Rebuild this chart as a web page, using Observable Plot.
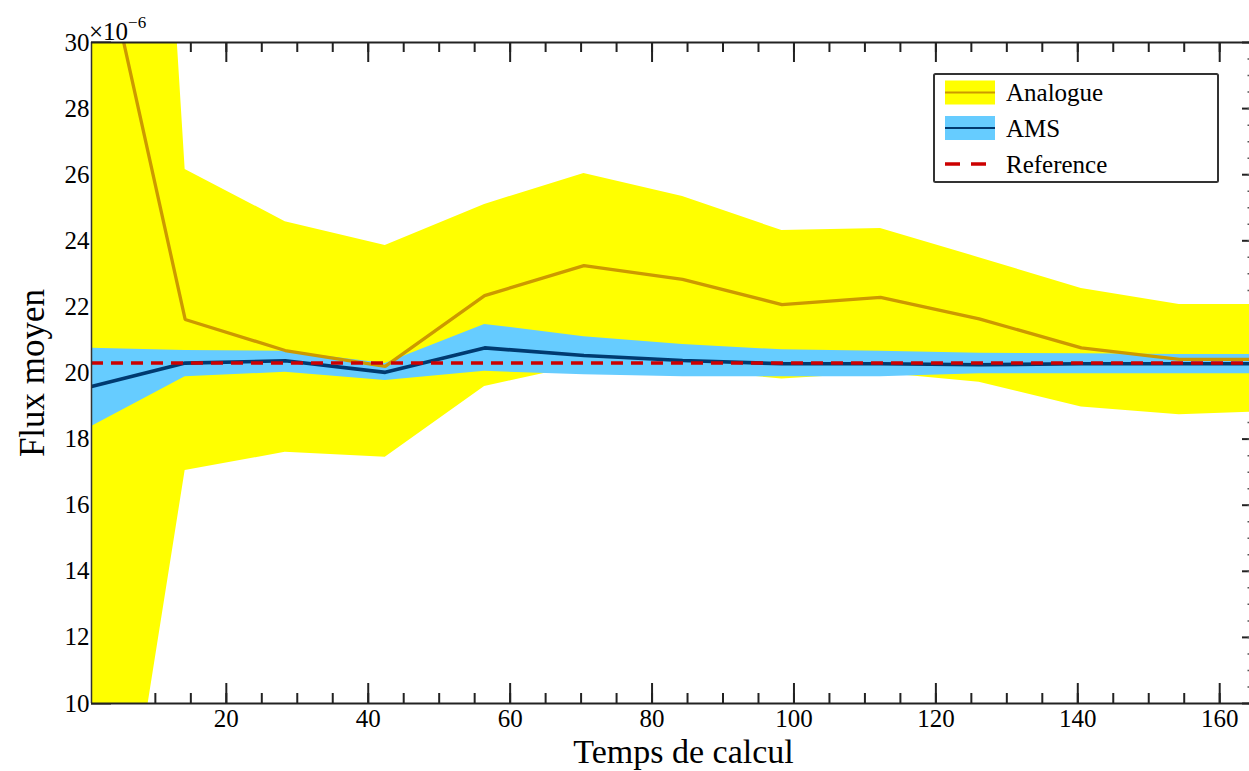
<!DOCTYPE html>
<html>
<head>
<meta charset="utf-8">
<script src="https://cdn.jsdelivr.net/npm/d3@7"></script>
<script src="https://cdn.jsdelivr.net/npm/@observablehq/plot@0.6"></script>
<style>
  html, body { margin: 0; padding: 0; background: #fff; overflow: hidden; }
  #wrap { position: relative; width: 1249px; height: 771px; }
  #wrap svg, #wrap svg text { font-family: "Liberation Serif", "Times New Roman", serif !important; }
  #overlay { position: absolute; left: 0; top: 0; pointer-events: none; }
</style>
</head>
<body>
<div id="wrap"></div>
<script>
// ---- data (values in units of 1e-6) ----
const xPos         = [1, 14.2, 28.3, 42.4, 56.4, 70.4, 84.3, 98.3, 112.2, 126.1, 140.5, 154.3, 168.3];
const analogueMean = [34.4, 21.62, 20.68, 20.20, 22.34, 23.25, 22.83, 22.07, 22.29, 21.64, 20.76, 20.41, 20.41];
const analogueHigh = [72, 26.16, 24.58, 23.86, 25.10, 26.04, 25.34, 24.31, 24.37, 23.49, 22.56, 22.07, 22.07];
const analogueLow  = [-0.8, 17.05, 17.60, 17.45, 19.59, 20.25, 20.10, 19.82, 20.00, 19.72, 18.97, 18.74, 18.84];
const amsMean      = [19.59, 20.30, 20.37, 20.02, 20.76, 20.53, 20.38, 20.28, 20.28, 20.25, 20.28, 20.28, 20.28];
const amsHigh      = [20.75, 20.68, 20.66, 20.29, 21.47, 21.10, 20.86, 20.70, 20.66, 20.60, 20.58, 20.56, 20.56];
const amsLow       = [18.38, 19.89, 20.02, 19.77, 20.05, 19.95, 19.89, 19.89, 19.89, 19.98, 19.98, 19.98, 19.98];
const referenceValue = 20.3;
const seriesNames = ["Analogue", "AMS", "Reference"];
const xDomain = [1, 164.2];
const yDomain = [10, 30];
const xMajor = [20, 40, 60, 80, 100, 120, 140, 160];
const xMinor = d3.range(5, 165, 5);
const yMajor = [10, 12, 14, 16, 18, 20, 22, 24, 26, 28, 30];
const yMinor = d3.range(10, 30.01, 0.5);
const xLabel = "Temps de calcul";
const yLabel = "Flux moyen";
const exponentBase = "×10";
const exponentPower = "−6";

// ---- layout / style ----
const W = 1249, H = 771, mL = 91, mR = 0, mT = 42, mB = 68;
const plotW = W - mL - mR, plotH = H - mT - mB;
const serif = '"Liberation Serif", "Times New Roman", serif';
const colYellow = "#ffff00", colOrange = "#cc9900", colBlue = "#66ccff", colNavy = "#003a70", colRed = "#cc0000";
const axisCol = "#222";

const rows = xPos.map((x, i) => ({
  x, aMean: analogueMean[i], aHigh: analogueHigh[i], aLow: analogueLow[i],
  sMean: amsMean[i], sHigh: amsHigh[i], sLow: amsLow[i]
}));

const chart = Plot.plot({
  width: W, height: H,
  marginLeft: mL, marginRight: mR, marginTop: mT, marginBottom: mB,
  style: { fontFamily: serif, fontSize: "25px", background: "white", color: "#000", overflow: "hidden" },
  x: { domain: xDomain },
  y: { domain: yDomain },
  marks: [
    // tick marks (drawn below the fills, as in the original)
    Plot.tickY(yMajor, { y: d => d, insetRight: plotW - 20, stroke: axisCol, strokeWidth: 2 }),
    Plot.tickX(xMinor, { x: d => d, insetTop: plotH - 10, stroke: axisCol, strokeWidth: 2 }),
    Plot.tickX(xMajor, { x: d => d, insetTop: plotH - 20, stroke: axisCol, strokeWidth: 2 }),
    Plot.tickX(xMinor, { x: d => d, insetBottom: plotH - 10, stroke: axisCol, strokeWidth: 2 }),
    Plot.tickX(xMajor, { x: d => d, insetBottom: plotH - 20, stroke: axisCol, strokeWidth: 2 }),
    Plot.tickY(yMajor, { y: d => d, insetLeft: plotW - 7, stroke: axisCol, strokeWidth: 2 }),
    Plot.tickY(yMinor, { y: d => d, insetLeft: plotW - 1.5, stroke: "#555", strokeWidth: 1.5 }),
    // bands
    Plot.areaY(rows, { x: "x", y1: "aLow", y2: "aHigh", fill: colYellow, clip: true }),
    Plot.areaY(rows, { x: "x", y1: "sLow", y2: "sHigh", fill: colBlue, clip: true }),
    // lines
    Plot.lineY(rows, { x: "x", y: "aMean", stroke: colOrange, strokeWidth: 3.3, strokeLinejoin: "miter", clip: true }),
    Plot.lineY(rows, { x: "x", y: "sMean", stroke: colNavy, strokeWidth: 3.6, strokeLinejoin: "miter", clip: true }),
    Plot.ruleY([referenceValue], { stroke: colRed, strokeWidth: 3.5, strokeDasharray: "12,8" }),
    // axis lines
    Plot.ruleX([xDomain[0]], { stroke: "#333", strokeWidth: 1.5 }),
    Plot.ruleY(yDomain, { stroke: axisCol, strokeWidth: 2 }),
    // tick labels
    Plot.axisX({ ticks: xMajor, tickSize: 0, tickPadding: 6, label: null, fill: "#000", fontFamily: serif, fontSize: 25 }),
    Plot.axisY({ ticks: yMajor, tickSize: 0, tickPadding: 2, label: null, fill: "#000", fontFamily: serif, fontSize: 25 }),
    // axis titles
    Plot.text([xLabel], { frameAnchor: "bottom", lineAnchor: "middle", textAnchor: "middle", dy: 49, dx: 13, fontSize: 34, fontFamily: serif, fill: "#000" }),
    Plot.text([yLabel], { frameAnchor: "left", lineAnchor: "middle", textAnchor: "middle", dx: -59, rotate: -90, fontSize: 35, fontFamily: serif, fill: "#000" })
  ]
});
document.getElementById("wrap").appendChild(chart);

// ---- overlay: exponent and legend ----
const ov = d3.select("#wrap").append("svg")
  .attr("id", "overlay").attr("width", W).attr("height", H)
  .style("font-family", serif);

const expo = ov.append("text").attr("x", 89).attr("y", 40).attr("font-size", 25).attr("fill", "#000");
expo.append("tspan").text(exponentBase);
expo.append("tspan").attr("dy", -12).attr("font-size", 17).text(exponentPower);

const lg = ov.append("g").attr("transform", "translate(934,74)");
lg.append("rect").attr("x", 0).attr("y", 0).attr("width", 284).attr("height", 108)
  .attr("fill", "white").attr("stroke", "#333").attr("stroke-width", 2).attr("rx", 1.5);
const rowsY = [18.5, 54, 90];
// Analogue
lg.append("rect").attr("x", 11).attr("y", rowsY[0] - 12).attr("width", 50).attr("height", 24).attr("fill", colYellow);
lg.append("line").attr("x1", 11).attr("x2", 61).attr("y1", rowsY[0]).attr("y2", rowsY[0]).attr("stroke", colOrange).attr("stroke-width", 2);
// AMS
lg.append("rect").attr("x", 11).attr("y", rowsY[1] - 12).attr("width", 50).attr("height", 24).attr("fill", colBlue);
lg.append("line").attr("x1", 11).attr("x2", 61).attr("y1", rowsY[1]).attr("y2", rowsY[1]).attr("stroke", colNavy).attr("stroke-width", 2);
// Reference
lg.append("line").attr("x1", 11).attr("x2", 61).attr("y1", rowsY[2]).attr("y2", rowsY[2]).attr("stroke", colRed).attr("stroke-width", 3.5).attr("stroke-dasharray", "15,11");
seriesNames.forEach((name, i) => {
  lg.append("text").attr("x", 72).attr("y", rowsY[i] + 8.5).attr("font-size", 25).attr("fill", "#000").text(name);
});
</script>
</body>
</html>
